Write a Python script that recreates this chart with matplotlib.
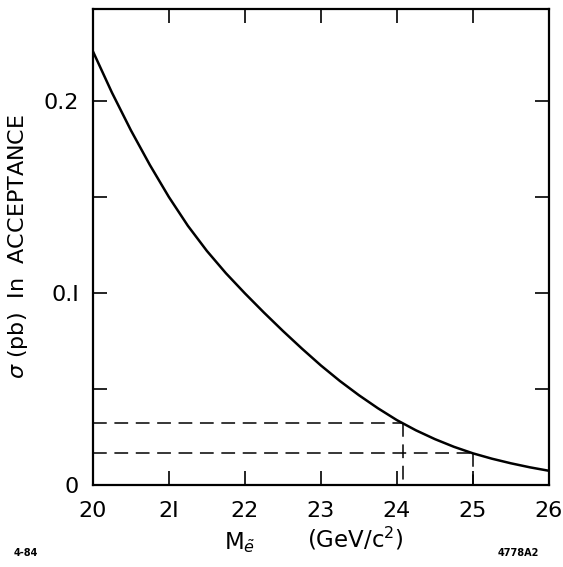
import numpy as np
import matplotlib
matplotlib.use("Agg")
import matplotlib.pyplot as plt
from matplotlib.ticker import MultipleLocator

# ==== data ====
mass = [20.0, 20.25, 20.5, 20.75, 21.0, 21.25, 21.5, 21.75, 22.0, 22.25, 22.5, 22.75,
        23.0, 23.25, 23.5, 23.75, 24.0, 24.25, 24.5, 24.75, 25.0, 25.25, 25.5, 25.75, 26.0]
sigma = [0.2260, 0.2045, 0.1848, 0.1667, 0.1500, 0.1350, 0.1219, 0.1103, 0.0998, 0.0898,
         0.0802, 0.0710, 0.0622, 0.0541, 0.0467, 0.0399, 0.0337, 0.0284, 0.0238, 0.0198,
         0.0164, 0.0136, 0.0112, 0.0091, 0.0073]

# dashed limit lines (cross section level -> mass)
limit_sigma = [0.032, 0.0165]
limit_mass = [24.08, 25.0]

xticks = [20, 21, 22, 23, 24, 25, 26]
xticklabels = ["20", "2I", "22", "23", "24", "25", "26"]
yticks = [0, 0.1, 0.2]
yticklabels = ["0", "0.I", "0.2"]

plt.rcParams['font.family'] = ['DejaVu Sans']

fig = plt.figure(figsize=(5.63, 5.67), dpi=100)
ax = fig.add_axes([0.165, 0.145, 0.81, 0.839])

ax.plot(mass, sigma, color="black", linewidth=1.8, solid_capstyle="butt")

for s, m in zip(limit_sigma, limit_mass):
    ax.plot([20, m], [s, s], color="black", linewidth=1.1, dashes=(9, 5))
    ax.plot([m, m], [s, 0], color="black", linewidth=1.1, dashes=(9, 5))

ax.set_xlim(20, 26)
ax.set_ylim(0, 0.248)

ax.set_xticks(xticks)
ax.set_xticklabels(xticklabels)
ax.set_yticks(yticks)
ax.set_yticklabels(yticklabels)
ax.yaxis.set_minor_locator(MultipleLocator(0.05))

ax.tick_params(axis="both", which="both", direction="in", top=True, right=True,
               length=10, width=1.2, labelsize=16, color="black")
ax.tick_params(axis="x", pad=12)
ax.tick_params(axis="y", pad=10)

for sp in ax.spines.values():
    sp.set_linewidth(1.6)

ax.set_ylabel(r"$\sigma$ (pb)  In  ACCEPTANCE", fontsize=16, labelpad=10)

fig.text(0.426, 0.043, r"M$_{\tilde{e}}$", fontsize=16.5, ha="center", va="center")
fig.text(0.632, 0.050, r"(GeV/c$^2$)", fontsize=16.5, ha="center", va="center")
fig.text(0.045, 0.025, "4-84", fontsize=7, fontweight="bold", ha="center", va="center")
fig.text(0.92, 0.025, "4778A2", fontsize=7, fontweight="bold", ha="center", va="center")

plt.savefig("out.png", dpi=100)
